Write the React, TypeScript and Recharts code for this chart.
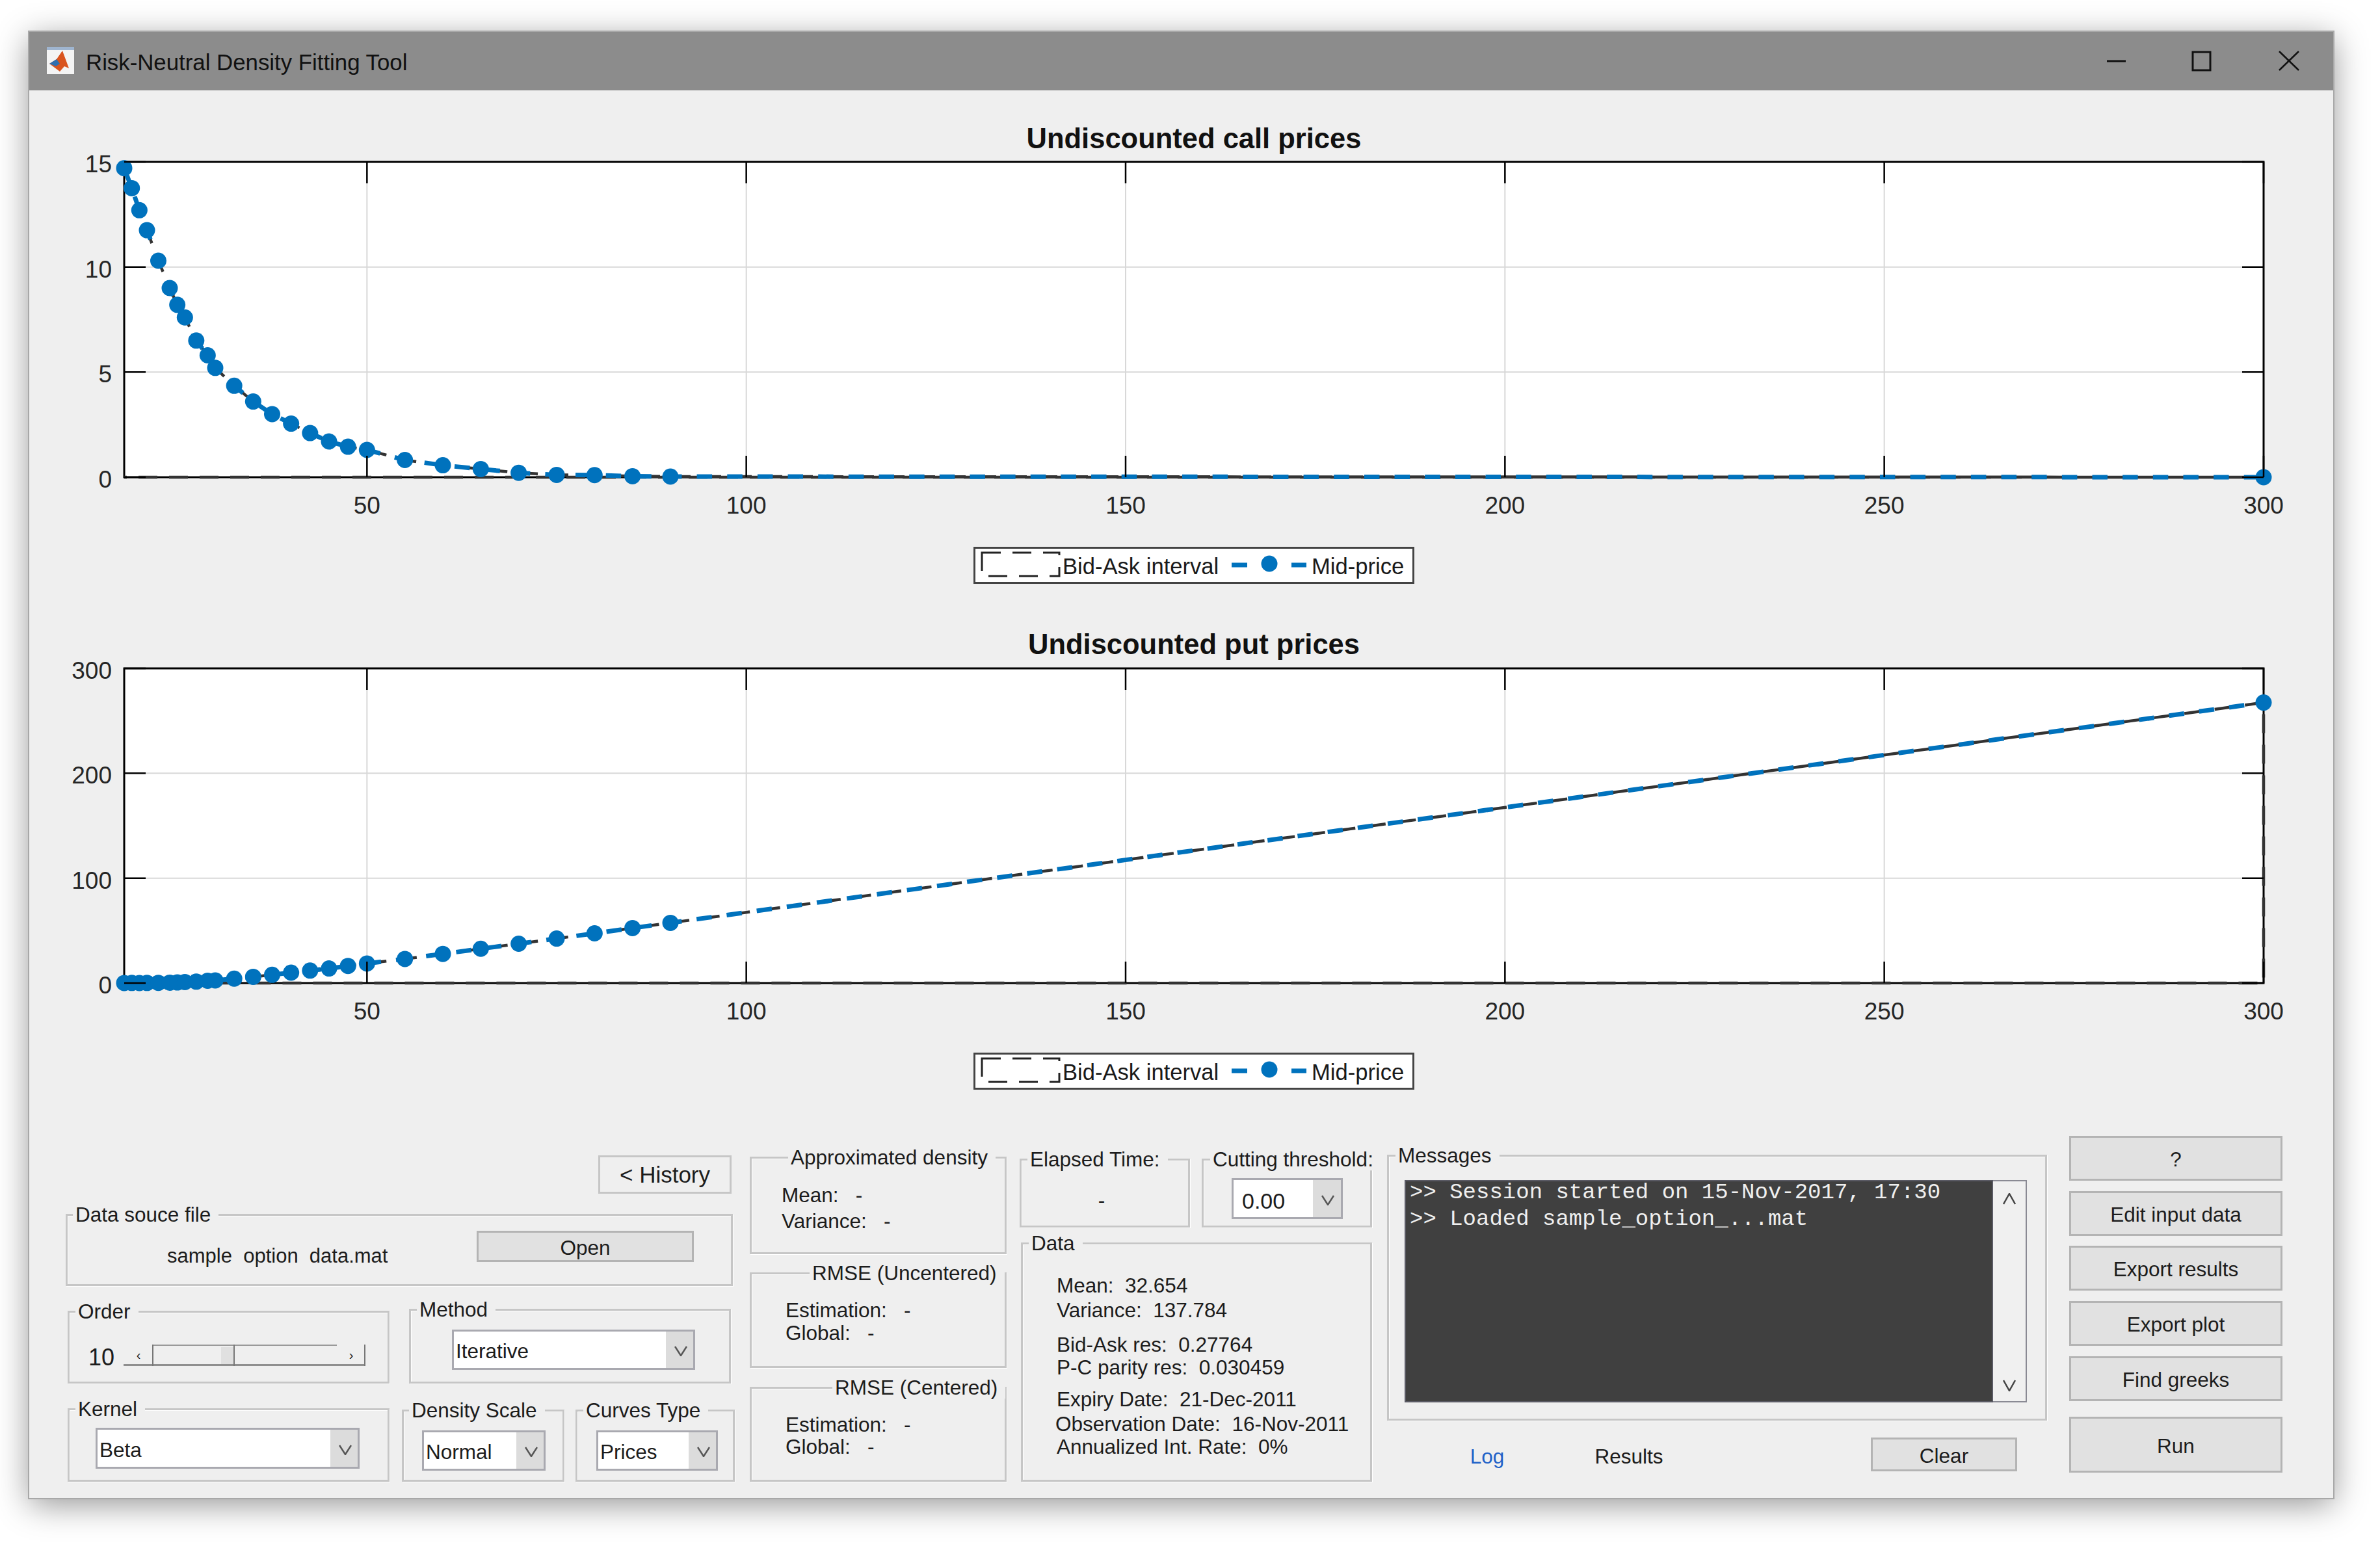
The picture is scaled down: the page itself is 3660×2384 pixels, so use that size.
import React from "react";
import { LineChart, Line, XAxis, YAxis, CartesianGrid, ReferenceArea, Legend } from "recharts";

// ---------- data ----------
const strikes = [18, 19, 20, 21, 22.5, 24, 25, 26, 27.5, 29, 30, 32.5, 35, 37.5, 40, 42.5, 45, 47.5, 50, 55, 60, 65, 70, 75, 80, 85, 90, 300];
const callMid = [14.7, 13.75, 12.7, 11.75, 10.3, 9.0, 8.2, 7.6, 6.5, 5.8, 5.2, 4.35, 3.6, 3.0, 2.55, 2.1, 1.7, 1.45, 1.3, 0.82, 0.57, 0.39, 0.21, 0.11, 0.1, 0.05, 0.03, 0.0];
const putMid = [0.05, 0.1, 0.05, 0.1, 0.15, 0.35, 0.55, 0.95, 1.35, 2.15, 2.55, 4.2, 5.95, 7.85, 9.9, 11.9, 13.9, 16.3, 18.65, 23.0, 27.8, 32.7, 37.5, 42.4, 47.4, 52.4, 57.4, 267.4];
const closeX = [300, 18];
const closeY = [0, 0];
const xTicks = [50, 100, 150, 200, 250, 300];
const callYTicks = [0, 5, 10, 15];
const putYTicks = [0, 100, 200, 300];
const xDomain = [18, 300];
const callYDomain = [0, 15];
const putYDomain = [0, 300];
const seriesNames = ["Bid-Ask interval", "Mid-price"];
const plotTitles = ["Undiscounted call prices", "Undiscounted put prices"];
const windowTitle = "Risk-Neutral Density Fitting Tool";
const dataLines = [
  ["Mean:  32.654", 1625, 1978],
  ["Variance:  137.784", 1625, 2016],
  ["Bid-Ask res:  0.27764", 1625, 2069],
  ["P-C parity res:  0.030459", 1625, 2104],
  ["Expiry Date:  21-Dec-2011", 1625, 2153],
  ["Observation Date:  16-Nov-2011", 1623, 2191],
  ["Annualized Int. Rate:  0%", 1625, 2226],
];
const sideButtons = [
  ["?", 1747, 1816],
  ["Edit input data", 1832, 1901],
  ["Export results", 1916, 1985],
  ["Export plot", 2001, 2070],
  ["Find greeks", 2086, 2155],
  ["Run", 2179, 2265],
];
const logLines = [">> Session started on 15-Nov-2017, 17:30", ">> Loaded sample_option_...mat"];

const toRows = (ys: number[]) => strikes.map((x, i) => ({ x, y: ys[i] }));
const toPolygon = (ys: number[]) => [
  ...strikes.map((x, i) => ({ x, y: ys[i] })),
  ...closeX.map((x, i) => ({ x, y: closeY[i] })),
];

// ---------- layout ----------
const FONT = "'Liberation Sans', Arial, sans-serif";
const TXT = 31.5;
const BLUE = "#0072BD";
const PL = 191, PR = 3481;
const PW = PR - PL;
const TICK = 33;
const XH = 60, YW = 80;

const makeXTick = (plotH: number) => (p: any) => (
  <g>
    <line x1={p.x} x2={p.x} y1={p.y} y2={p.y - TICK} stroke="#000" strokeWidth={2.5} />
    <line x1={p.x} x2={p.x} y1={p.y - plotH} y2={p.y - plotH + TICK} stroke="#000" strokeWidth={2.5} />
    <text x={p.x} y={p.y + 56} textAnchor="middle" fontFamily={FONT} fontSize={37} fill="#262626">{p.payload.value}</text>
  </g>
);
const makeYTick = () => (p: any) => (
  <g>
    <line x1={PL} x2={PL + TICK} y1={p.y} y2={p.y} stroke="#000" strokeWidth={2.5} />
    <line x1={PR} x2={PR - TICK} y1={p.y} y2={p.y} stroke="#000" strokeWidth={2.5} />
    <text x={172} y={p.y + 16} textAnchor="end" fontFamily={FONT} fontSize={37} fill="#262626">{p.payload.value}</text>
  </g>
);

const LegendBox = () => (
  <div style={{ position: "relative", width: 678, height: 57, background: "#fff", border: "3px solid #444", boxSizing: "border-box", fontFamily: FONT, fontSize: 34.6, color: "#1a1a1a" }}>
    <svg width={672} height={51} style={{ position: "absolute", left: 0, top: 0 }}>
      <rect x={10} y={6} width={119} height={36} fill="none" stroke="#222" strokeWidth={3} strokeDasharray="29 18" />
      <line x1={394} x2={509} y1={25} y2={25} stroke={BLUE} strokeWidth={7} strokeDasharray="24 68" />
      <circle cx={452} cy={23} r={12.5} fill={BLUE} />
    </svg>
    <span style={{ position: "absolute", left: 134, top: 8, whiteSpace: "pre" }}>{seriesNames[0]}</span>
    <span style={{ position: "absolute", left: 517, top: 8, whiteSpace: "pre" }}>{seriesNames[1]}</span>
  </div>
);

function PriceChart({ top, height, plotTop, plotBottom, legendTop, ys, yDomain, yTicks }: any) {
  const plotH = plotBottom - plotTop;
  return (
    <div style={{ position: "absolute", left: 0, top }}>
      <LineChart
        width={3660}
        height={height}
        margin={{ left: PL - YW, right: 3660 - PR, top: plotTop - top, bottom: top + height - plotBottom - XH }}
      >
        <CartesianGrid fill="#fff" stroke="#d8d8d8" strokeWidth={2} />
        <XAxis dataKey="x" type="number" domain={xDomain} ticks={xTicks} axisLine={false} tickLine={false} tickSize={0} tickMargin={0} height={XH} interval={0} tick={makeXTick(plotH)} />
        <YAxis type="number" domain={yDomain} ticks={yTicks} axisLine={false} tickLine={false} width={YW} interval={0} tick={makeYTick()} />
        <ReferenceArea x1={xDomain[0]} x2={xDomain[1]} y1={yDomain[0]} y2={yDomain[1]} fill="none" stroke="#000" strokeWidth={3} fillOpacity={0} />
        <Legend
          layout="horizontal"
          verticalAlign="middle"
          align="center"
          content={<LegendBox />}
          wrapperStyle={{ left: 1497, top: legendTop - top, width: 678, height: 57 }}
        />
        <Line data={toPolygon(ys)} dataKey="y" name={seriesNames[0]} stroke="#333" strokeWidth={4.5} strokeDasharray="29 18" dot={false} isAnimationActive={false} legendType="none" />
        <Line data={toRows(ys)} dataKey="y" name={seriesNames[1]} stroke={BLUE} strokeWidth={7} strokeDasharray="23.5 23.15" dot={(p: any) => (p.payload.x === 300 || p.payload.x <= 90 ? <circle key={p.index} cx={p.cx} cy={p.cy} r={12.5} fill={BLUE} /> : <g key={p.index} />)} isAnimationActive={false} />
      </LineChart>
    </div>
  );
}

// ---------- UI helpers (page coordinates) ----------
const T = ({ x, y, c, size = TXT, color = "#1c1c1c", family = FONT, anchor = "left" }: any) => (
  <div style={{
    position: "absolute", left: x, top: y, whiteSpace: "pre", fontFamily: family, fontSize: size, color, lineHeight: 1,
    transform: anchor === "center" ? "translate(-50%,-50%)" : "translateY(-50%)",
  }}>{c}</div>
);
const Group = ({ x1, y1, x2, y2, title, tx }: any) => (
  <>
    <div style={{ position: "absolute", left: x1, top: y1, width: x2 - x1, height: y2 - y1, boxSizing: "border-box", border: "3px solid #c6c6c6", boxShadow: "1px 1px 0 #fff, inset 1px 1px 0 #fff" }} />
    <div style={{ position: "absolute", left: tx - 4, top: y1 + 2, transform: "translateY(-50%)", background: "#efefef", padding: "0 12px 0 4px", whiteSpace: "pre", fontFamily: FONT, fontSize: TXT, lineHeight: 1, color: "#1c1c1c" }}>{title}</div>
  </>
);
const Btn = ({ x1, y1, x2, y2, c, flat }: any) => (
  <div style={{ position: "absolute", left: x1, top: y1, width: x2 - x1, height: y2 - y1, boxSizing: "border-box", background: flat ? "#efefef" : "#e1e1e1", border: flat ? "3px solid #c6c6c6" : "3px solid #b4b4b4", display: "flex", alignItems: "center", justifyContent: "center", paddingTop: flat ? 0 : 4, fontFamily: FONT, fontSize: flat ? 35 : TXT, color: "#1c1c1c", whiteSpace: "pre" }}>{c}</div>
);
const Chevron = ({ cx, cy, up, color = "#555", w = 20, h = 16 }: any) => (
  <svg style={{ position: "absolute", left: cx - w / 2, top: cy - h / 2 }} width={w} height={h}>
    <polyline points={up ? `1,${h - 1} ${w / 2},1 ${w - 1},${h - 1}` : `1,1 ${w / 2},${h - 1} ${w - 1},1`} fill="none" stroke={color} strokeWidth={2.5} />
  </svg>
);
const Select = ({ x1, y1, x2, y2, ax, c, tx = 6, size = TXT }: any) => (
  <>
    <div style={{ position: "absolute", left: x1, top: y1, width: x2 - x1, height: y2 - y1, boxSizing: "border-box", background: "#fff", border: "3px solid #a9a9b0" }} />
    <div style={{ position: "absolute", left: ax, top: y1 + 3, width: x2 - ax - 3, height: y2 - y1 - 6, background: "#dcdcdc" }} />
    <Chevron cx={(ax + x2) / 2} cy={(y1 + y2) / 2 + 2} />
    <T x={x1 + tx} y={(y1 + y2) / 2 + 3} c={c} size={size} />
  </>
);
const Box = ({ x1, y1, x2, y2, bg, border }: any) => (
  <div style={{ position: "absolute", left: x1, top: y1, width: x2 - x1, height: y2 - y1, background: bg, border, boxSizing: "border-box" }} />
);

export default function App() {
  return (
    <div style={{ position: "absolute", left: 0, top: 0, width: 3660, height: 2384, background: "#fff", overflow: "hidden" }}>
      {/* window */}
      <div style={{ position: "absolute", left: 45, top: 49, width: 3543, height: 2255, background: "#efefef", boxShadow: "0 10px 48px rgba(0,0,0,0.42)", outline: "2px solid #a8a8a8" }} />
      <div style={{ position: "absolute", left: 45, top: 49, width: 3543, height: 90, background: "#8c8c8c" }} />
      <svg style={{ position: "absolute", left: 72, top: 72 }} width={42} height={42}>
        <rect width={42} height={42} fill="#f4f4f4" />
        <rect width={42} height={5} fill="#9fb5d0" />
        <polygon points="4,26 15,19 24,6 34,33 27,30 20,38" fill="#d9541e" />
        <polygon points="4,26 15,19 20,26 14,30" fill="#2f6fb0" />
      </svg>
      <T x={132} y={96} c={windowTitle} size={34.8} color="#111" />
      <svg style={{ position: "absolute", left: 3230, top: 70 }} width={310} height={48}>
        <line x1={10} x2={39} y1={24} y2={24} stroke="#111" strokeWidth={3} />
        <rect x={142} y={10} width={27} height={28} fill="none" stroke="#111" strokeWidth={3} />
        <line x1={275} x2={305} y1={9} y2={38} stroke="#111" strokeWidth={2.5} />
        <line x1={305} x2={275} y1={9} y2={38} stroke="#111" strokeWidth={2.5} />
      </svg>

      {/* plots */}
      <PriceChart top={0} height={950} plotTop={249} plotBottom={734} legendTop={841} ys={callMid} yDomain={callYDomain} yTicks={callYTicks} />
      <PriceChart top={960} height={740} plotTop={1028} plotBottom={1512} legendTop={1619} ys={putMid} yDomain={putYDomain} yTicks={putYTicks} />
      <div style={{ position: "absolute", left: PL, width: PW, top: 214, transform: "translateY(-50%)", textAlign: "center", fontFamily: FONT, fontWeight: 700, fontSize: 43.5, lineHeight: 1, color: "#111" }}>{plotTitles[0]}</div>
      <div style={{ position: "absolute", left: PL, width: PW, top: 992, transform: "translateY(-50%)", textAlign: "center", fontFamily: FONT, fontWeight: 700, fontSize: 43.5, lineHeight: 1, color: "#111" }}>{plotTitles[1]}</div>

      {/* left controls */}
      <Btn x1={920} y1={1777} x2={1125} y2={1836} c="< History" flat />
      <Group x1={101} y1={1867} x2={1127} y2={1978} title="Data souce file" tx={116} />
      <T x={257} y={1931} c="sample  option  data.mat" size={31} />
      <Btn x1={733} y1={1893} x2={1067} y2={1941} c="Open" />
      <Group x1={104} y1={2016} x2={599} y2={2128} title="Order" tx={120} />
      <T x={136} y={2088} c="10" size={36} />
      <Box x1={190} y1={2068} x2={562} y2={2101} bg="#efefef" />
      <div style={{ position: "absolute", left: 190, top: 2098, width: 372, height: 3, background: "#8f8f8f" }} />
      <div style={{ position: "absolute", left: 234, top: 2068, width: 284, height: 2, background: "#9a9a9a" }} />
      <div style={{ position: "absolute", left: 234, top: 2068, width: 2, height: 33, background: "#777" }} />
      <div style={{ position: "absolute", left: 340, top: 2072, width: 20, height: 26, background: "#e0e0e0" }} />
      <div style={{ position: "absolute", left: 359, top: 2068, width: 2, height: 33, background: "#777" }} />
      <div style={{ position: "absolute", left: 560, top: 2068, width: 2, height: 33, background: "#777" }} />
      <T x={213} y={2084} c="‹" size={20} anchor="center" />
      <T x={540} y={2084} c="›" size={20} anchor="center" />
      <Group x1={629} y1={2013} x2={1124} y2={2128} title="Method" tx={645} />
      <Select x1={695} y1={2045} x2={1069} y2={2107} ax={1024} c="Iterative" />
      <Group x1={104} y1={2166} x2={599} y2={2279} title="Kernel" tx={120} />
      <Select x1={147} y1={2196} x2={553} y2={2259} ax={508} c="Beta" />
      <Group x1={618} y1={2168} x2={868} y2={2279} title="Density Scale" tx={633} />
      <Select x1={649} y1={2200} x2={839} y2={2262} ax={794} c="Normal" />
      <Group x1={885} y1={2168} x2={1130} y2={2279} title="Curves Type" tx={901} />
      <Select x1={917} y1={2200} x2={1104} y2={2262} ax={1059} c="Prices" />

      {/* stats */}
      <Group x1={1153} y1={1779} x2={1548} y2={1929} title="Approximated density" tx={1216} />
      <T x={1202} y={1839} c="Mean:   -" />
      <T x={1202} y={1879} c="Variance:   -" />
      <Group x1={1153} y1={1957} x2={1548} y2={2104} title="RMSE (Uncentered)" tx={1249} />
      <T x={1208} y={2016} c="Estimation:   -" />
      <T x={1208} y={2051} c="Global:   -" />
      <Group x1={1153} y1={2133} x2={1548} y2={2279} title="RMSE (Centered)" tx={1284} />
      <T x={1208} y={2192} c="Estimation:   -" />
      <T x={1208} y={2226} c="Global:   -" />
      <Group x1={1568} y1={1782} x2={1830} y2={1888} title="Elapsed Time:" tx={1584} />
      <T x={1694} y={1847} c="-" anchor="center" />
      <Group x1={1848} y1={1782} x2={2110} y2={1888} title="Cutting threshold:" tx={1865} />
      <Select x1={1894} y1={1812} x2={2065} y2={1875} ax={2019} c="0.00" tx={16} size={34} />
      <Group x1={1570} y1={1911} x2={2110} y2={2279} title="Data" tx={1586} />
      {dataLines.map(([c, x, y]) => <T key={c as string} x={x} y={y} c={c} />)}

      {/* messages */}
      <Group x1={2133} y1={1776} x2={3148} y2={2185} title="Messages" tx={2150} />
      <Box x1={2160} y1={1815} x2={3117} y2={2157} bg="#f0f0f0" border="2px solid #8a8a94" />
      <Box x1={2160} y1={1815} x2={3065} y2={2157} bg="#404040" border="2px solid #5a5a64" />
      <T x={2168} y={1834} c={logLines[0]} size={34} color="#efefef" family="'Liberation Mono', monospace" />
      <T x={2168} y={1875} c={logLines[1]} size={34} color="#efefef" family="'Liberation Mono', monospace" />
      <Chevron cx={3090} cy={1844} up w={20} h={18} color="#444" />
      <Chevron cx={3090} cy={2131} w={20} h={18} color="#444" />
      <T x={2287} y={2241} c="Log" color="#1f62c8" anchor="center" />
      <T x={2505} y={2241} c="Results" anchor="center" />
      <Btn x1={2877} y1={2211} x2={3102} y2={2263} c="Clear" />
      {sideButtons.map(([c, y1, y2]) => <Btn key={c as string} x1={3182} y1={y1} x2={3510} y2={y2} c={c} />)}
    </div>
  );
}
